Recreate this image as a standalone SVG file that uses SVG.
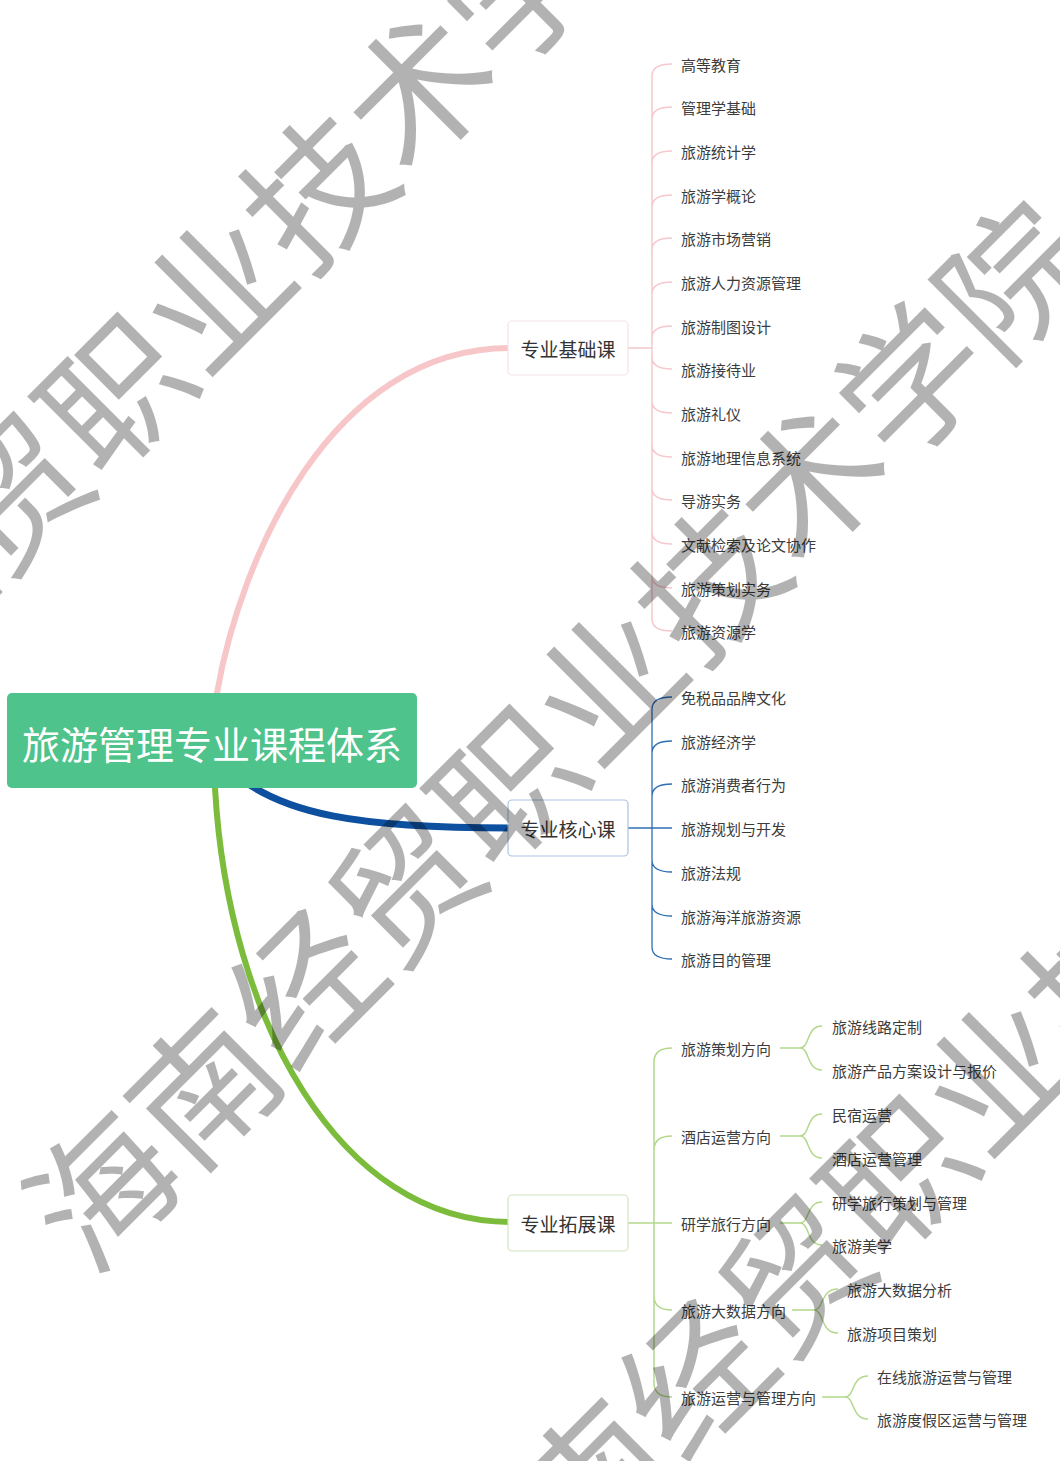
<svg xmlns="http://www.w3.org/2000/svg" width="1060" height="1461" viewBox="0 0 1060 1461">
<style>
text{font-family:"Noto Sans CJK SC","Liberation Sans",sans-serif;}
.leaf{font-size:15px;fill:#3c3c3c;dominant-baseline:central;}
.mid{font-size:19px;fill:#333;dominant-baseline:central;text-anchor:middle;}
.box{fill:#fff;stroke-width:1.2;}
.pk{fill:none;stroke:#f5c9cd;stroke-width:1.5;}
.bl{fill:none;stroke:#2f6fb3;stroke-width:1.3;}
.gr{fill:none;stroke:#b3d88c;stroke-width:1.5;}
.wm{font-size:143px;fill:#000;fill-opacity:0.3;dominant-baseline:central;}
</style>
<rect width="1060" height="1461" fill="#fff"/>
<g id="connectors">
<path d="M214,740 L217,693 C240,560 330,348 510,348" fill="none" stroke="#f7c6c9" stroke-width="6" stroke-linecap="round"/>
<path d="M230,770 C280,815 360,828 510,828" fill="none" stroke="#0d50a0" stroke-width="7" stroke-linecap="round"/>
<path d="M214,740 L215,788 C228,1020 340,1222 510,1222" fill="none" stroke="#7cbc3c" stroke-width="6" stroke-linecap="round"/>
<path class="pk" d="M628,348 H652"/>
<path class="pk" d="M652,348 V76 Q652,64 672,64 M652,119 Q652,107 672,107 M652,163 Q652,151 672,151 M652,207 Q652,195 672,195 M652,250 Q652,238 672,238 M652,294 Q652,282 672,282 M652,338 Q652,326 672,326 M652,348 V619 Q652,631 672,631 M652,357 Q652,369 672,369 M652,401 Q652,413 672,413 M652,445 Q652,457 672,457 M652,488 Q652,500 672,500 M652,532 Q652,544 672,544 M652,576 Q652,588 672,588"/>
<path class="bl" d="M628,828 H672"/>
<path class="bl" d="M652,828 V709 Q652,697 672,697 M652,753 Q652,741 672,741 M652,796 Q652,784 672,784 M652,828 V947 Q652,959 672,959 M652,860 Q652,872 672,872 M652,904 Q652,916 672,916"/>
<path class="gr" d="M628,1223 H672"/>
<path class="gr" d="M654,1223 V1062 Q654,1048 672,1048 M654,1150 Q654,1136 672,1136 M654,1223 V1383 Q654,1397 672,1397 M654,1296 Q654,1310 672,1310"/>
<path class="gr" d="M780,1048 H800 C810,1048 806,1026 822,1026 M800,1048 C810,1048 806,1070 822,1070"/>
<path class="gr" d="M780,1136 H800 C810,1136 806,1114 822,1114 M800,1136 C810,1136 806,1158 822,1158"/>
<path class="gr" d="M780,1223 H800 C810,1223 806,1202 822,1202 M800,1223 C810,1223 806,1245 822,1245"/>
<path class="gr" d="M792,1310 H814 C824,1310 820,1289 838,1289 M814,1310 C824,1310 820,1333 838,1333"/>
<path class="gr" d="M822,1397 H845 C855,1397 851,1376 868,1376 M845,1397 C855,1397 851,1419 868,1419"/>
</g>
<g id="root">
<rect x="7" y="693" width="410" height="95" rx="5" fill="#4ec38b"/>
<text x="212" y="742" font-size="38" fill="#fff" text-anchor="middle" dominant-baseline="central">旅游管理专业课程体系</text>
</g>
<g id="n-jichu">
<rect class="box" x="508" y="321" width="120" height="54" rx="4" stroke="#f3e3e5"/>
<text class="mid" x="568" y="348">专业基础课</text>
</g>
<g id="n-hexin">
<rect class="box" x="508" y="800" width="120" height="56" rx="4" stroke="#a9c3df"/>
<text class="mid" x="568" y="828">专业核心课</text>
</g>
<g id="n-tuozhan">
<rect class="box" x="508" y="1195" width="120" height="56" rx="4" stroke="#d3e6c1"/>
<text class="mid" x="568" y="1223">专业拓展课</text>
</g>
<g id="leaves-jichu">
<text class="leaf" x="681" y="64">高等教育</text>
<text class="leaf" x="681" y="107">管理学基础</text>
<text class="leaf" x="681" y="151">旅游统计学</text>
<text class="leaf" x="681" y="195">旅游学概论</text>
<text class="leaf" x="681" y="238">旅游市场营销</text>
<text class="leaf" x="681" y="282">旅游人力资源管理</text>
<text class="leaf" x="681" y="326">旅游制图设计</text>
<text class="leaf" x="681" y="369">旅游接待业</text>
<text class="leaf" x="681" y="413">旅游礼仪</text>
<text class="leaf" x="681" y="457">旅游地理信息系统</text>
<text class="leaf" x="681" y="500">导游实务</text>
<text class="leaf" x="681" y="544">文献检索及论文协作</text>
<text class="leaf" x="681" y="588">旅游策划实务</text>
<text class="leaf" x="681" y="631">旅游资源学</text>
</g>
<g id="leaves-hexin">
<text class="leaf" x="681" y="697">免税品品牌文化</text>
<text class="leaf" x="681" y="741">旅游经济学</text>
<text class="leaf" x="681" y="784">旅游消费者行为</text>
<text class="leaf" x="681" y="828">旅游规划与开发</text>
<text class="leaf" x="681" y="872">旅游法规</text>
<text class="leaf" x="681" y="916">旅游海洋旅游资源</text>
<text class="leaf" x="681" y="959">旅游目的管理</text>
</g>
<g id="leaves-tuozhan">
<text class="leaf" x="681" y="1048">旅游策划方向</text>
<text class="leaf" x="681" y="1136">酒店运营方向</text>
<text class="leaf" x="681" y="1223">研学旅行方向</text>
<text class="leaf" x="681" y="1310">旅游大数据方向</text>
<text class="leaf" x="681" y="1397">旅游运营与管理方向</text>
<text class="leaf" x="832" y="1026">旅游线路定制</text>
<text class="leaf" x="832" y="1070">旅游产品方案设计与报价</text>
<text class="leaf" x="832" y="1114">民宿运营</text>
<text class="leaf" x="832" y="1158">酒店运营管理</text>
<text class="leaf" x="832" y="1202">研学旅行策划与管理</text>
<text class="leaf" x="832" y="1245">旅游美学</text>
<text class="leaf" x="847" y="1289">旅游大数据分析</text>
<text class="leaf" x="847" y="1333">旅游项目策划</text>
<text class="leaf" x="877" y="1376">在线旅游运营与管理</text>
<text class="leaf" x="877" y="1419">旅游度假区运营与管理</text>
</g>
<g id="watermark">
<text class="wm" transform="translate(-346,842) rotate(-45)">海南经贸职业技术学院</text>
<text class="wm" transform="translate(46,1234) rotate(-45)">海南经贸职业技术学院</text>
<text class="wm" transform="translate(436,1624) rotate(-45)">海南经贸职业技术学院</text>
</g>
</svg>
